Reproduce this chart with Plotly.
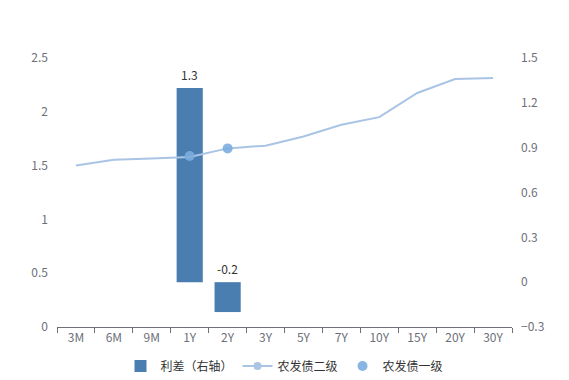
import plotly.graph_objects as go

categories = ["3M", "6M", "9M", "1Y", "2Y", "3Y", "5Y", "7Y", "10Y", "15Y", "20Y", "30Y"]
spread_cats = ["1Y", "2Y"]
spread_vals = [1.3, -0.2]
secondary_vals = [1.50, 1.555, 1.565, 1.58, 1.66, 1.685, 1.77, 1.88, 1.95, 2.175, 2.305, 2.315]
primary_cats = ["1Y", "2Y"]
primary_vals = [1.59, 1.66]

FONT = "Microsoft YaHei, Noto Sans CJK SC, sans-serif"
GRAY = "#6e7079"
LINE_C = "#a9c4e4"

fig = go.Figure()
# bar on the right-side axis (drawn first, underneath)
fig.add_trace(go.Bar(
    x=spread_cats, y=spread_vals, name="利差（右轴）", yaxis="y",
    marker=dict(color="#4a7eb0", line=dict(width=0)), width=0.69,
))
fig.add_trace(go.Scatter(
    x=categories, y=secondary_vals, name="农发债二级", mode="lines",
    line=dict(color=LINE_C, width=2), yaxis="y2", showlegend=False,
    legendgroup="sec",
))
# legend entry for the line (line with circle, as in the reference)
fig.add_trace(go.Scatter(
    x=[None], y=[None], name="农发债二级", mode="lines+markers",
    line=dict(color=LINE_C, width=2), marker=dict(color=LINE_C, size=8),
    yaxis="y2", legendgroup="sec",
))
fig.add_trace(go.Scatter(
    x=primary_cats, y=primary_vals, name="农发债一级", mode="markers",
    marker=dict(color="#7badde", size=10, opacity=0.9), yaxis="y2",
))

for c, v in zip(spread_cats, spread_vals):
    fig.add_annotation(x=c, y=max(v, 0), xref="x", yref="y", text=f"{v:g}",
                       showarrow=False, yanchor="bottom", yshift=3,
                       font=dict(size=12, color="#333", family=FONT))

fig.update_layout(
    width=569, height=380,
    margin=dict(l=57, r=57, t=58, b=53, autoexpand=False),
    paper_bgcolor="white", plot_bgcolor="white",
    font=dict(family=FONT, size=12, color=GRAY),
    xaxis=dict(categoryorder="array", categoryarray=categories,
               range=[-0.5, len(categories) - 0.5],
               showline=True, linecolor=GRAY, linewidth=1,
               ticks="outside", tickson="boundaries", ticklen=5, tickcolor=GRAY,
               showgrid=False, zeroline=False, tickfont=dict(size=12, color=GRAY)),
    yaxis=dict(range=[-0.3, 1.5], dtick=0.3, side="right",
               showgrid=False, zeroline=False, showline=False, ticks="",
               ticklabelstandoff=8, tickformat="~g",
               tickfont=dict(size=12, color=GRAY)),
    yaxis2=dict(range=[0, 2.5], dtick=0.5, overlaying="y", side="left",
                showgrid=False, zeroline=False, showline=False, ticks="",
                ticklabelstandoff=8, tickfont=dict(size=12, color=GRAY)),
    legend=dict(orientation="h", x=0.5, xanchor="center", yref="container",
                y=0.037, yanchor="middle",
                font=dict(size=12, color="#333"), itemwidth=30, traceorder="normal"),
)

fig.write_html("out.html")
